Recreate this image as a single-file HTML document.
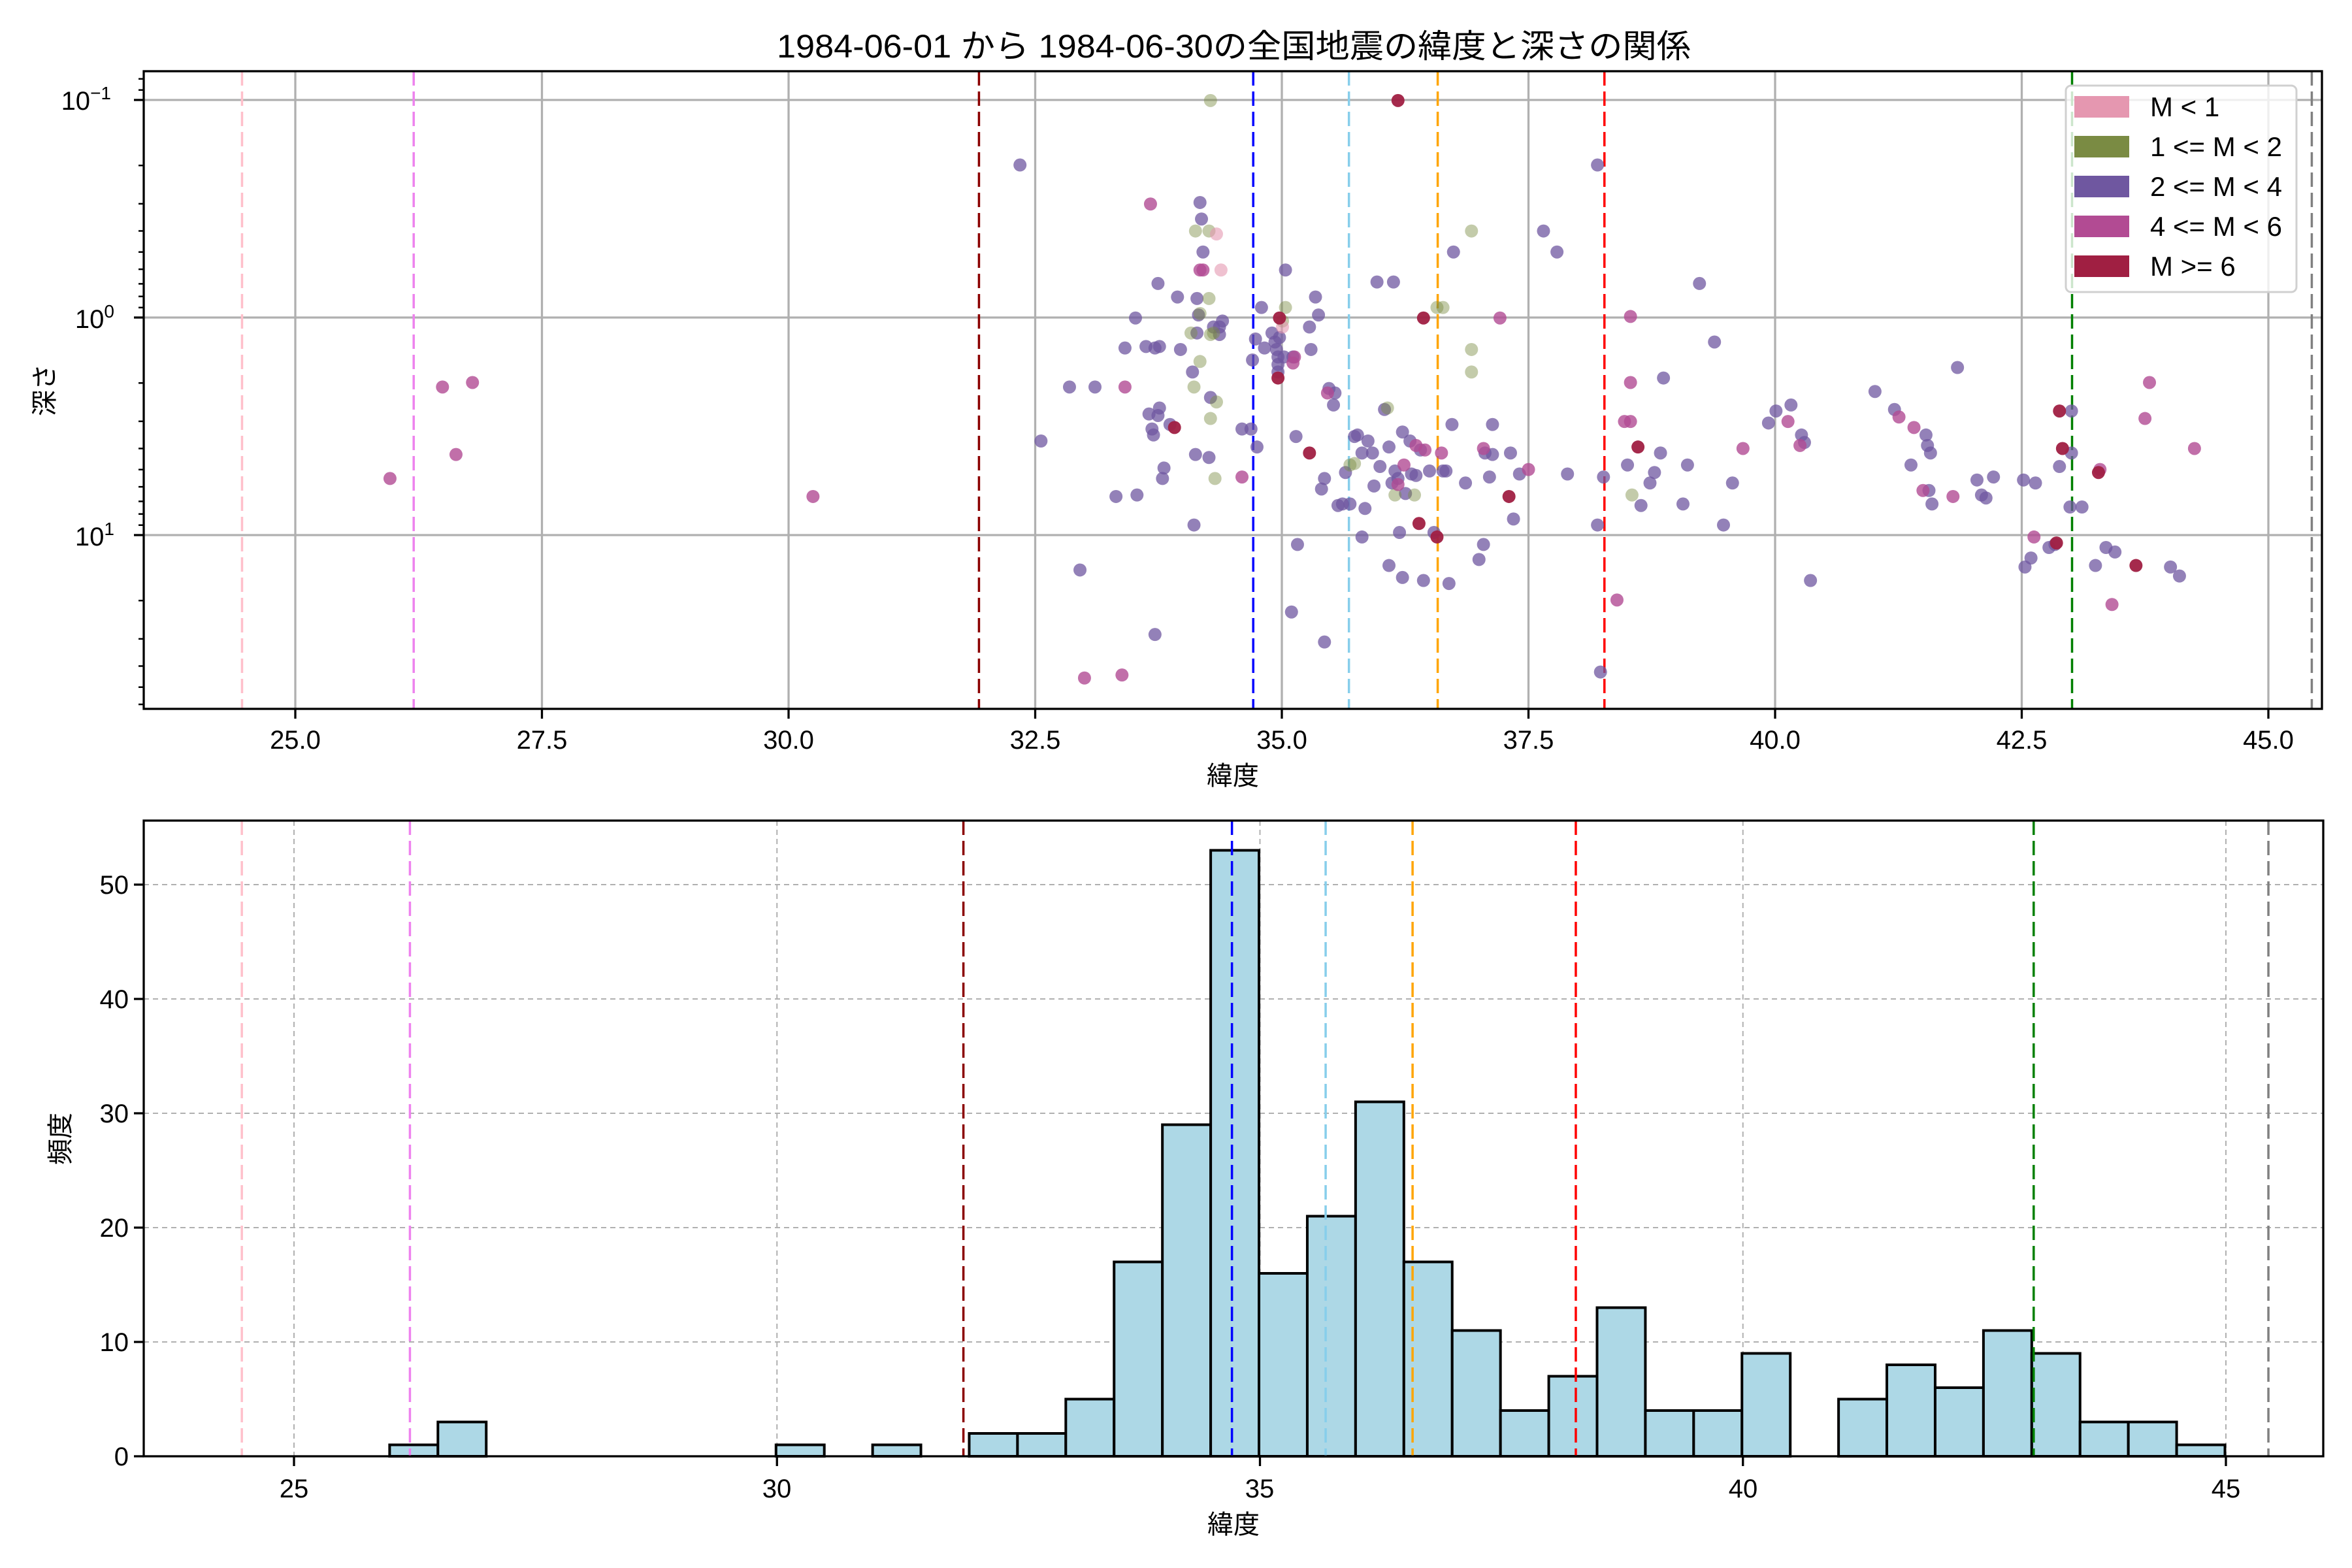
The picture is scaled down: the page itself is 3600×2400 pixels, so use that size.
<!DOCTYPE html>
<html><head><meta charset="utf-8"><style>
html,body{margin:0;padding:0;background:#fff;}
svg{display:block;font-family:"Liberation Sans","Noto Sans CJK JP",sans-serif;}
</style></head><body>
<svg id="s" xmlns="http://www.w3.org/2000/svg" width="3600" height="2400" viewBox="0 0 3600 2400">
<rect width="3600" height="2400" fill="#fff"/>
<g id="topgrid"></g>
<g id="toplines"></g>
<g id="pts"></g>
<g id="botgrid"></g>
<g id="bars"></g>
<g id="botlines"></g>
<g id="ticks"></g>
<rect x="220" y="109" width="3334" height="976" fill="none" stroke="#000" stroke-width="3.3"/>
<rect x="220" y="1256" width="3336" height="973" fill="none" stroke="#000" stroke-width="3.3"/>
<text x="1189" y="88" font-size="50" textLength="1399" lengthAdjust="spacingAndGlyphs">1984-06-01 から 1984-06-30の全国地震の緯度と深さの関係</text>
<!-- legend -->
<rect x="3162" y="131" width="353" height="316" rx="8" fill="#fff" fill-opacity="0.8" stroke="#d0d0d0" stroke-width="3"/>
<rect x="3175" y="147" width="84" height="33" fill="#e597b0"/>
<rect x="3175" y="208" width="84" height="33" fill="#7a8b43"/>
<rect x="3175" y="269" width="84" height="33" fill="#6f57a0"/>
<rect x="3175" y="330" width="84" height="33" fill="#b24b93"/>
<rect x="3175" y="391" width="84" height="33" fill="#a01f42"/>
<g font-size="42">
<text x="3291" y="178">M &lt; 1</text>
<text x="3291" y="239">1 &lt;= M &lt; 2</text>
<text x="3291" y="300">2 &lt;= M &lt; 4</text>
<text x="3291" y="361">4 &lt;= M &lt; 6</text>
<text x="3291" y="422">M &gt;= 6</text>
</g>
<g font-size="40" text-anchor="middle">
<text x="452" y="1146">25.0</text><text x="829.5" y="1146">27.5</text><text x="1207" y="1146">30.0</text>
<text x="1584.5" y="1146">32.5</text><text x="1962" y="1146">35.0</text><text x="2339.5" y="1146">37.5</text>
<text x="2717" y="1146">40.0</text><text x="3094.5" y="1146">42.5</text><text x="3472" y="1146">45.0</text>
<text x="1887" y="1201" font-size="40">緯度</text>
<text x="450" y="2292">25</text><text x="1189" y="2292">30</text><text x="1928" y="2292">35</text>
<text x="2668" y="2292">40</text><text x="3407" y="2292">45</text>
<text x="1888" y="2347">緯度</text>
</g>
<g font-size="40" text-anchor="end">
<text x="170" y="168">10<tspan font-size="28" dy="-16">−1</tspan></text>
<text x="175" y="502">10<tspan font-size="28" dy="-16">0</tspan></text>
<text x="175" y="835">10<tspan font-size="28" dy="-16">1</tspan></text>
<text x="197" y="2243">0</text><text x="197" y="2068">10</text><text x="197" y="1893">20</text>
<text x="197" y="1718">30</text><text x="197" y="1543">40</text><text x="197" y="1368">50</text>
</g>
<text transform="translate(82,597) rotate(-90)" font-size="40" text-anchor="middle">深さ</text>
<text transform="translate(106,1743) rotate(-90)" font-size="40" text-anchor="middle">頻度</text>
</svg>
<script>
var NS="http://www.w3.org/2000/svg";
function el(p,t,a){var e=document.createElementNS(NS,t);for(var k in a)e.setAttribute(k,a[k]);document.getElementById(p).appendChild(e);return e;}
function tx(l){return 452+(l-25)*151;}
function bx(l){return 450+(l-25)*147.85;}
function ty(v){return 153+333*(Math.log10(v)+1);}
function by(c){return 2229-c*17.5;}
for(var l=25;l<=45.01;l+=2.5){el("topgrid","line",{x1:tx(l),x2:tx(l),y1:109,y2:1085,stroke:"#b0b0b0","stroke-width":3.3});
 el("ticks","line",{x1:tx(l),x2:tx(l),y1:1085,y2:1100,stroke:"#000","stroke-width":3.3});}
[0.1,1,10].forEach(function(v){el("topgrid","line",{x1:220,x2:3554,y1:ty(v),y2:ty(v),stroke:"#b0b0b0","stroke-width":3.3});
 el("ticks","line",{x1:205,x2:220,y1:ty(v),y2:ty(v),stroke:"#000","stroke-width":3.3});});
[0.08,0.09,0.2,0.3,0.4,0.5,0.6,0.7,0.8,0.9,2,3,4,5,6,7,8,9,20,30,40,50,60].forEach(function(v){
 el("ticks","line",{x1:212,x2:220,y1:ty(v),y2:ty(v),stroke:"#000","stroke-width":2.5});});
for(var l=25;l<=45;l+=5){el("botgrid","line",{x1:bx(l),x2:bx(l),y1:1256,y2:2229,stroke:"#b0b0b0","stroke-width":2,"stroke-dasharray":"8,6"});
 el("ticks","line",{x1:bx(l),x2:bx(l),y1:2229,y2:2244,stroke:"#000","stroke-width":3.3});}
for(var c=0;c<=50;c+=10){el("botgrid","line",{x1:220,x2:3556,y1:by(c),y2:by(c),stroke:"#b0b0b0","stroke-width":2,"stroke-dasharray":"8,6"});
 el("ticks","line",{x1:205,x2:220,y1:by(c),y2:by(c),stroke:"#000","stroke-width":3.3});}
var VL=[[24.46,"pink"],[26.2,"violet"],[31.93,"darkred"],[34.71,"blue"],[35.68,"skyblue"],[36.58,"orange"],[38.27,"red"],[43.01,"green"],[45.44,"gray"]];
VL.forEach(function(d){el("toplines","line",{x1:tx(d[0]),x2:tx(d[0]),y1:109,y2:1085,stroke:d[1],"stroke-width":3.5,"stroke-dasharray":"22,9"});});
var k=2.2959;
var P=[[713,258],[720,380],[770,423],[757,212],[764,231],[773,231],[772,189],[785,198],[787,233],[750,232],[766,276],[768,286],[769,290],[772,277],[773,272],[776,312],[775,319],[758,330],[770,232],[800,135],[801,146],[802,168],[798,199],[799,210],[798,222],[795,248],[797,303],[806,305],[813,218],[815,214],[813,223],[807,265],[796,350],[780,283],[828,286],[834,286],[838,298],[835,240],[837,226],[841,205],[843,232],[848,222],[850,228],[851,233],[852,238],[852,243],[852,248],[853,225],[857,180],[856,238],[862,238],[864,291],[865,363],[873,218],[874,233],[877,198],[881,326],[879,210],[883,319],[886,259],[890,262],[889,270],[892,337],[895,336],[897,315],[900,336],[903,291],[905,290],[908,358],[910,339],[912,294],[915,302],[916,324],[918,188],[920,311],[923,273],[926,377],[926,298],[928,322],[929,188],[930,314],[932,319],[933,355],[935,288],[937,329],[940,294],[941,316],[944,317],[947,300],[949,387],[953,314],[956,355],[962,314],[964,314],[966,389],[968,283],[969,168],[977,322],[986,373],[989,363],[990,302],[993,318],[995,283],[995,303],[1007,302],[1009,346],[1013,316],[1029,154],[1038,168],[1045,316],[1065,110],[1065,350],[1067,448],[1069,318],[1085,310],[1094,337],[1100,322],[1103,315],[1107,302],[1109,252],[1122,336],[1125,310],[1133,189],[1143,228],[1149,350],[1155,322],[1179,282],[1184,274],[1194,270],[1201,290],[1203,295],[1207,387],[1250,261],[1263,273],[1274,310],[1284,290],[1285,297],[1287,302],[1286,327],[1288,336],[1305,245],[1318,320],[1321,330],[1324,332],[1329,318],[1349,320],[1350,378],[1354,372],[1357,322],[1366,365],[1370,363],[1373,311],[1381,302],[1381,274],[1380,338],[1388,338],[1397,377],[1404,365],[1410,368],[1447,378],[1453,384],[680,110],[694,294],[883,428],[861,408],[908,302],[935,385],[744,331],[809,218],[730,258]];
var O=[[807,67],[797,154],[806,154],[800,209],[806,199],[807,223],[809,222],[811,268],[807,279],[810,319],[800,241],[796,258],[857,205],[855,214],[900,310],[903,309],[925,272],[930,330],[943,330],[958,205],[962,205],[981,233],[981,248],[981,154],[1088,330],[794,222]];
var K=[[814,180],[811,156],[855,218]];
var M=[[260,319],[295,258],[304,303],[315,255],[542,331],[723,452],[748,450],[750,258],[767,136],[800,180],[802,180],[828,318],[862,242],[863,238],[885,262],[932,323],[944,297],[950,300],[989,299],[1019,313],[1078,400],[1083,281],[1087,281],[1087,211],[1087,255],[1162,299],[1192,281],[1200,297],[1266,278],[1276,285],[1282,327],[1302,331],[1356,358],[1400,313],[1408,403],[1430,279],[1433,255],[1463,299],[936,310],[961,302],[1000,212]];
var R=[[932,67],[783,285],[853,212],[852,252],[873,302],[949,212],[946,349],[958,358],[1006,331],[1092,298],[1373,274],[1375,299],[1371,362],[1424,377],[1399,315]];
function dots(a,col,op){a.forEach(function(p){el("pts","circle",{cx:p[0]*k,cy:p[1]*k,r:10,fill:col,"fill-opacity":op});});}
dots(P,"#6f57a0",0.75);dots(O,"#7a8b43",0.45);dots(K,"#e597b0",0.6);dots(M,"#b24b93",0.8);dots(R,"#a01f42",0.95);
var H=[[26,1],[26.5,3],[30,1],[31,1],[32,2],[32.5,2],[33,5],[33.5,17],[34,29],[34.5,53],[35,16],[35.5,21],[36,31],[36.5,17],[37,11],[37.5,4],[38,7],[38.5,13],[39,4],[39.5,4],[40,9],[41,5],[41.5,8],[42,6],[42.5,11],[43,9],[43.5,3],[44,3],[44.5,1]];
H.forEach(function(h){var x0=bx(h[0]-0.01),x1=bx(h[0]+0.49);el("bars","rect",{x:x0,y:by(h[1]),width:x1-x0,height:h[1]*17.5,fill:"#add8e6",stroke:"#000","stroke-width":4});});
VL.forEach(function(d){el("botlines","line",{x1:bx(d[0]),x2:bx(d[0]),y1:1256,y2:2229,stroke:d[1],"stroke-width":3.5,"stroke-dasharray":"22,9"});});
</script>
</body></html>
